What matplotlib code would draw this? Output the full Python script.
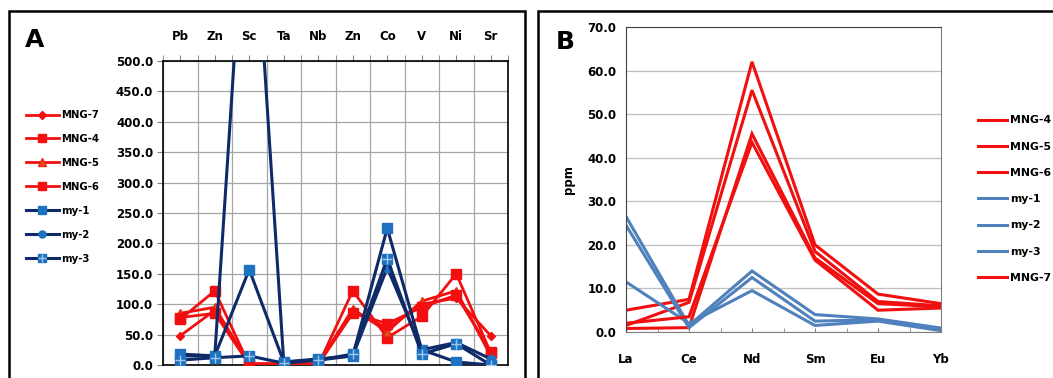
import matplotlib
matplotlib.use('Agg')
import matplotlib.pyplot as plt
from matplotlib.patches import Rectangle
import numpy as np

W, H = 1053, 378

# Panel A data (trace elements)
elements_a = ['Pb', 'Zn', 'Sc', 'Ta', 'Nb', 'Zn', 'Co', 'V', 'Ni', 'Sr']
mng7_a = [48, 90, 2, 2, 2, 90, 60, 100, 110, 48]
mng4_a = [75, 122, 0, 0, 0, 122, 45, 80, 150, 20]
mng5_a = [85, 95, 2, 2, 2, 92, 55, 105, 122, 15]
mng6_a = [78, 85, 1, 1, 1, 85, 68, 95, 115, 22]
my1_a = [18, 15, 157, 5, 10, 15, 225, 25, 5, 0]
my2_a = [15, 15, 880, 5, 8, 15, 160, 25, 37, 10]
my3_a = [8, 12, 15, 3, 8, 18, 175, 18, 35, 0]
yticks_a = np.arange(0, 501, 50)

# Panel B data (REE)
elements_b = ['La', 'Ce', 'Nd', 'Sm', 'Eu', 'Yb']
mng4_b = [5.0, 7.5, 62.0, 20.0, 8.7, 6.5]
mng5_b = [1.5, 6.8, 55.5, 18.5, 7.0, 6.0]
mng6_b = [0.8, 1.0, 45.5, 17.0, 6.5, 5.8]
my1_b = [26.5, 1.5, 14.0, 4.0, 3.0, 0.9]
my2_b = [24.5, 1.0, 12.5, 2.5, 2.8, 0.6]
my3_b = [11.5, 2.0, 9.5, 1.5, 2.5, 0.3]
mng7_b = [2.0, 3.5, 43.5, 16.5, 5.0, 5.5]
yticks_b = np.arange(0, 71, 10)

RED = '#F20F0F'
NAVY = '#0E2A68'
MBLUE = '#1F72C0'
LBLUE = '#4F81BD'
FS = 8.5


def fx(px):
    return px / W


def fy(py):
    return 1 - py / H


fig = plt.figure(figsize=(W / 100, H / 100), dpi=100)

# panel frames
fig.patches.append(Rectangle((fx(9), fy(390)), fx(525) - fx(9), fy(11) - fy(390),
                             transform=fig.transFigure, fill=False, lw=1.8, ec='black'))
fig.patches.append(Rectangle((fx(538), fy(390)), fx(1070) - fx(538), fy(11) - fy(390),
                             transform=fig.transFigure, fill=False, lw=1.8, ec='black'))

# ---------------- Panel A ----------------
axA = fig.add_axes([fx(163), fy(365), fx(508) - fx(163), fy(61) - fy(365)])
x = np.arange(len(elements_a))

axA.plot(x, mng7_a, color=RED, lw=2, marker='D', ms=4.5, label='MNG-7', zorder=3)
axA.plot(x, mng4_a, color=RED, lw=2, marker='s', ms=6.5, label='MNG-4', zorder=3)
axA.plot(x, mng5_a, color=RED, lw=2, marker='^', ms=6, mfc='#E8501A', mec='#E02A1A',
         label='MNG-5', zorder=3)
axA.plot(x, mng6_a, color=RED, lw=2, marker='s', ms=6.5, label='MNG-6', zorder=3)
l_my1, = axA.plot(x, my1_a, color=NAVY, lw=2.2, marker='s', ms=6.5, mfc=MBLUE, mec=MBLUE,
                  label='my-1', zorder=4)
l_my2, = axA.plot(x, my2_a, color=NAVY, lw=2.2, marker='o', ms=6, mfc=MBLUE, mec=MBLUE,
                  label='my-2', zorder=4)
l_my3, = axA.plot(x, my3_a, color=NAVY, lw=2.2, marker='s', ms=6.5, mfc=MBLUE, mec=MBLUE,
                  label='my-3', zorder=4)
l_my3p, = axA.plot(x, my3_a, ls='none', marker='+', ms=6.5, mew=1, color='#9CC8EE', zorder=5)

axA.set_xlim(-0.5, len(elements_a) - 0.5)
axA.set_ylim(0, 500)
axA.set_yticks(yticks_a)
axA.set_yticklabels(['%.1f' % v for v in yticks_a])
axA.set_xticks(x)
axA.set_xticklabels(elements_a)
axA.set_xticks(np.arange(-0.5, len(elements_a)), minor=True)
axA.xaxis.set_ticks_position('top')
axA.tick_params(axis='x', which='major', top=True, bottom=False, labeltop=True,
                labelbottom=False, length=4, direction='out', pad=9,
                labelsize=FS, color='#808080')
axA.tick_params(axis='x', which='minor', top=True, bottom=False, length=4,
                direction='out', color='#808080')
axA.tick_params(axis='y', length=4, direction='out', pad=3, labelsize=FS, color='#808080')
for lab in axA.get_xticklabels() + axA.get_yticklabels():
    lab.set_fontweight('bold')
axA.grid(True, axis='y', color='#A6A6A6', lw=0.9)
axA.grid(True, axis='x', which='minor', color='#A6A6A6', lw=0.9)
axA.set_axisbelow(True)
for s in axA.spines.values():
    s.set_color('black')
    s.set_linewidth(1.2)

fig.text(fx(35), fy(40), 'A', fontsize=18, fontweight='bold', ha='center', va='center')

handles_a = axA.get_lines()[:6] + [(l_my3, l_my3p)]
labels_a = ['MNG-7', 'MNG-4', 'MNG-5', 'MNG-6', 'my-1', 'my-2', 'my-3']
fig.legend(handles_a, labels_a, loc='upper left', bbox_to_anchor=(fx(22), fy(106)),
           frameon=False, prop={'size': 7.3, 'weight': 'bold'}, handlelength=3.2,
           handletextpad=0.3, labelspacing=1.38, markerscale=0.85, borderaxespad=0)

# ---------------- Panel B ----------------
axB = fig.add_axes([fx(626), fy(332), fx(941) - fx(626), fy(27) - fy(332)])
xb = np.arange(len(elements_b))
series_b = [('MNG-4', mng4_b, RED), ('MNG-5', mng5_b, RED), ('MNG-6', mng6_b, RED),
            ('my-1', my1_b, LBLUE), ('my-2', my2_b, LBLUE), ('my-3', my3_b, LBLUE),
            ('MNG-7', mng7_b, RED)]
for name, vals, col in series_b:
    axB.plot(xb, vals, color=col, lw=2.2, label=name, solid_joinstyle='miter')

axB.set_xlim(0, len(elements_b) - 1)
axB.set_ylim(0, 70)
axB.set_yticks(yticks_b)
axB.set_yticklabels(['%.1f' % v for v in yticks_b])
axB.set_xticks(xb)
axB.set_xticklabels(elements_b)
axB.set_xticks(np.arange(0.5, len(elements_b) - 1, 1), minor=True)
axB.tick_params(axis='x', which='both', length=3, direction='in', pad=15,
                labelsize=FS, color='#808080')
axB.tick_params(axis='y', length=0, pad=7, labelsize=FS)
for lab in axB.get_xticklabels() + axB.get_yticklabels():
    lab.set_fontweight('bold')
axB.grid(True, axis='y', color='#BFBFBF', lw=0.9)
axB.set_axisbelow(True)
axB.spines['left'].set_color('#404040')
axB.spines['bottom'].set_color('#808080')
axB.spines['top'].set_color('#404040')
axB.spines['right'].set_color('#808080')
axB.set_ylabel('ppm', fontsize=FS, fontweight='bold', labelpad=9)

fig.text(fx(565), fy(42), 'B', fontsize=18, fontweight='bold', ha='center', va='center')

fig.legend(*axB.get_legend_handles_labels(), loc='upper left',
           bbox_to_anchor=(fx(974), fy(111)), frameon=False,
           prop={'size': 7.8, 'weight': 'bold'}, handlelength=2.6, handletextpad=0.3,
           labelspacing=1.5, borderaxespad=0)

fig.savefig('out.png', dpi=100)
